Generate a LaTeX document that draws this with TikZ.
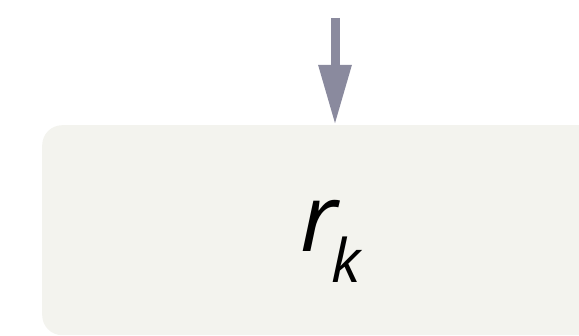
\documentclass[tikz,border=0pt]{standalone}
\usepackage{fontspec}
\setmainfont{Open Sans}
\usetikzlibrary{arrows.meta}
\definecolor{boxfill}{HTML}{F3F3EE}
\definecolor{arrowcol}{HTML}{8A8A9E}
\begin{document}
\begin{tikzpicture}[x=1pt,y=-1pt,
  stagebox/.style={fill=boxfill, draw=none, rounded corners=20pt, inner sep=0pt,
    minimum width=586pt, minimum height=210pt},
  flow/.style={draw=arrowcol, line width=9pt, -{Triangle[length=60pt,width=31pt]}}]
\useasboundingbox (0,0) rectangle (579,336);
\clip (0,0) rectangle (579,336);
\node[stagebox, anchor=north west] (box) at (42,125) {};
\coordinate (src) at (335,18);
\draw[flow] (src) -- (src |- box.north);
\node[anchor=base west, inner sep=0pt] (lbl) at (300,252)
  {\fontsize{94}{94}\selectfont\itshape r\kern-6pt\raisebox{-31pt}{\fontsize{60}{60}\selectfont k}};
\end{tikzpicture}
\end{document}
